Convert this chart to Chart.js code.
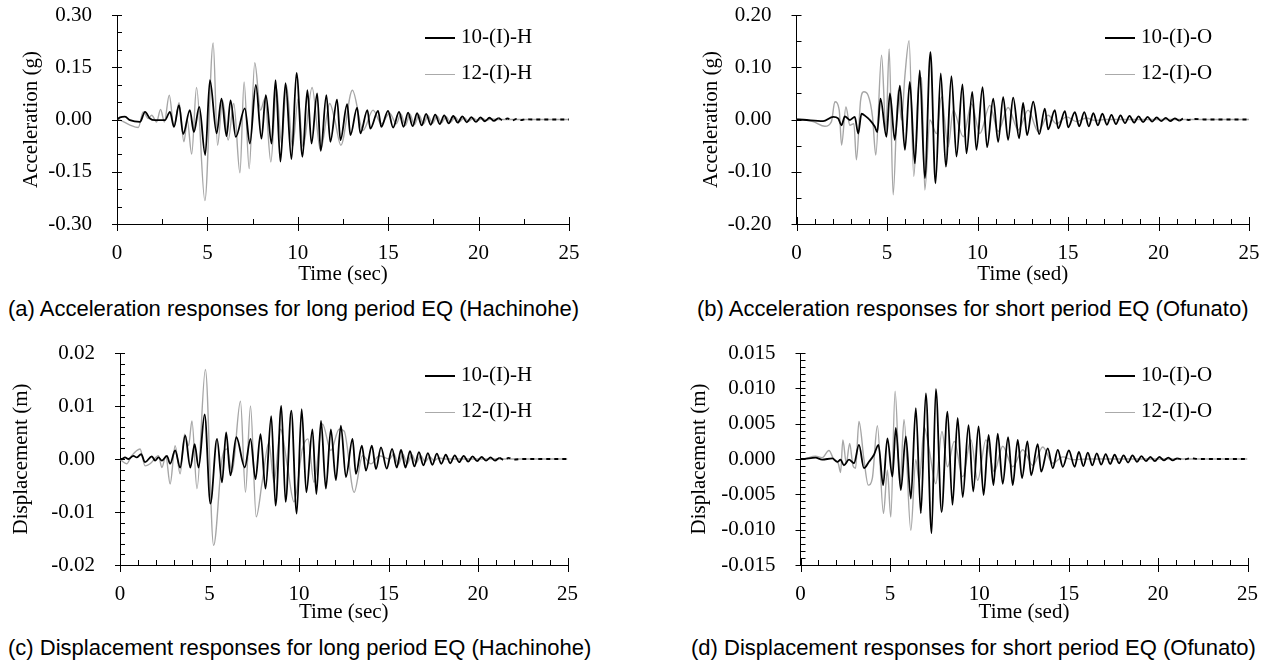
<!DOCTYPE html>
<html>
<head>
<meta charset="utf-8">
<script src="https://cdn.jsdelivr.net/npm/chart.js@4.4.1/dist/chart.umd.min.js"></script>
<style>
body { margin: 0; background: #fff; width: 1268px; height: 664px; position: relative; overflow: hidden; }
canvas { position: absolute; }
.cap { position: absolute; font-family: "Liberation Sans", Arial, sans-serif; font-size: 22px; line-height: 26px; white-space: nowrap; color: #000; }
.leg { position: absolute; font-family: "Liberation Serif", "Times New Roman", serif; font-size: 21px; line-height: 24px; white-space: nowrap; color: #000; }
.leg .ln { display: inline-block; width: 30px; height: 0; vertical-align: middle; margin-right: 6px; }
</style>
</head>
<body>
<canvas id="pa" width="620" height="292" style="left:0;top:0"></canvas>
<canvas id="pb" width="588" height="292" style="left:680px;top:0"></canvas>
<canvas id="pc" width="620" height="292" style="left:0;top:338px"></canvas>
<canvas id="pd" width="588" height="292" style="left:680px;top:338px"></canvas>

<div class="leg" style="left:425px;top:24px"><span class="ln" style="border-top:2px solid #000"></span>10-(I)-H</div>
<div class="leg" style="left:425px;top:60px"><span class="ln" style="border-top:1px solid #aaa"></span>12-(I)-H</div>
<div class="leg" style="left:1105px;top:24px"><span class="ln" style="border-top:2px solid #000"></span>10-(I)-O</div>
<div class="leg" style="left:1105px;top:60px"><span class="ln" style="border-top:1px solid #aaa"></span>12-(I)-O</div>
<div class="leg" style="left:425px;top:362px"><span class="ln" style="border-top:2px solid #000"></span>10-(I)-H</div>
<div class="leg" style="left:425px;top:398px"><span class="ln" style="border-top:1px solid #aaa"></span>12-(I)-H</div>
<div class="leg" style="left:1105px;top:362px"><span class="ln" style="border-top:2px solid #000"></span>10-(I)-O</div>
<div class="leg" style="left:1105px;top:398px"><span class="ln" style="border-top:1px solid #aaa"></span>12-(I)-O</div>

<div class="cap" style="left:8px;top:296px">(a) Acceleration responses for long period EQ (Hachinohe)</div>
<div class="cap" style="left:697px;top:296px">(b) Acceleration responses for short period EQ (Ofunato)</div>
<div class="cap" style="left:8px;top:635px">(c) Displacement responses for long period EQ (Hachinohe)</div>
<div class="cap" style="left:691px;top:635px">(d) Displacement responses for short period EQ (Ofunato)</div>

<script>
// tick labels
const timeTicks = [0, 5, 10, 15, 20, 25];
const accHTicks = [-0.30, -0.15, 0, 0.15, 0.30];
const accOTicks = [-0.20, -0.10, 0, 0.10, 0.20];
const dispHTicks = [-0.02, -0.01, 0, 0.01, 0.02];
const dispOTicks = [-0.015, -0.010, -0.005, 0, 0.005, 0.010, 0.015];

// (a) acceleration, Hachinohe  [time s, accel g]
const accH10 = [[0,0],[0.17,0.006],[0.44,0.008],[0.72,-0.002],[1.27,-0.007],[1.55,0.022],[1.82,0.003],[2.10,-0.002],[2.65,-0.002],[2.93,0.022],[3.15,-0.021],[3.43,0.041],[3.66,-0.042],[4.03,0.027],[4.25,-0.036],[4.55,0.036],[4.88,-0.102],[5.14,0.113],[5.51,-0.040],[5.78,0.060],[6.06,-0.048],[6.28,0.055],[6.57,-0.050],[7.07,0.032],[7.35,-0.069],[7.68,0.099],[7.99,-0.055],[8.23,0.070],[8.55,-0.069],[8.77,0.113],[9.04,-0.121],[9.32,0.104],[9.65,-0.114],[9.93,0.134],[10.26,-0.107],[10.53,0.084],[10.76,-0.069],[11.07,0.075],[11.27,-0.090],[11.58,0.070],[11.80,-0.064],[12.17,0.057],[12.36,-0.059],[12.73,0.044],[12.91,-0.045],[13.28,0.034],[13.46,-0.040],[13.85,0.027],[14.01,-0.026],[14.44,0.025],[14.62,-0.021],[14.99,0.025],[15.27,-0.023],[15.60,0.022],[15.85,-0.021],[16.1,0.020],[16.35,-0.019],[16.6,0.018],[16.85,-0.017],[17.1,0.016],[17.35,-0.015],[17.6,0.014],[17.85,-0.013],[18.1,0.012],[18.35,-0.011],[18.6,0.010],[18.85,-0.009],[19.1,0.009],[19.35,-0.008],[19.6,0.007],[19.85,-0.007],[20.1,0.006],[20.35,-0.005],[20.6,0.005],[20.85,-0.004],[21.1,0.004],[21.35,-0.003],[21.6,0.003],[21.85,-0.003],[22.1,0.002],[22.35,-0.002],[22.6,0.001],[23,0],[25,0]];
const accH12 = [[0,0],[0.17,-0.002],[0.72,-0.016],[1.18,-0.023],[1.45,0.022],[1.73,0.003],[1.92,0.012],[2.19,-0.007],[2.41,0.029],[2.62,-0.007],[2.89,0.070],[3.15,-0.021],[3.43,0.048],[3.70,-0.064],[3.89,-0.002],[4.13,-0.099],[4.40,0.092],[4.86,-0.233],[5.32,0.220],[5.56,-0.074],[5.84,0.055],[6.15,-0.059],[6.46,0.046],[6.80,-0.153],[7.03,0.108],[7.31,-0.141],[7.62,0.163],[7.94,0.027],[8.18,0.060],[8.51,-0.122],[8.82,0.089],[9.10,-0.069],[9.37,0.099],[9.71,-0.078],[10.02,0.060],[10.29,-0.078],[10.79,0.092],[11.25,-0.088],[11.77,0.046],[12.04,0.000],[12.38,-0.074],[13.02,0.084],[13.61,-0.031],[14.16,0.027],[14.62,-0.012],[15.08,0.018],[15.45,-0.012],[15.7,0.016],[15.95,-0.017],[16.2,0.015],[16.45,-0.015],[16.7,0.013],[16.95,-0.013],[17.2,0.011],[17.45,-0.011],[17.7,0.010],[17.95,-0.009],[18.2,0.008],[18.45,-0.008],[18.7,0.007],[18.95,-0.006],[19.2,0.005],[19.45,-0.005],[19.7,0.004],[19.95,-0.003],[20.2,0.003],[20.45,-0.002],[20.7,0.002],[21,0],[25,0]];

// (b) acceleration, Ofunato
const accO10 = [[0,0],[0.09,0],[1.47,-0.003],[2.03,0.005],[2.30,0.002],[2.49,-0.011],[2.67,0.006],[2.95,-0.001],[3.22,0.005],[3.41,-0.027],[3.59,0.011],[3.83,0.006],[4.05,-0.001],[4.33,-0.014],[4.46,-0.024],[4.64,0.040],[4.97,-0.033],[5.16,0.050],[5.43,-0.039],[5.71,0.065],[5.99,-0.058],[6.26,0.072],[6.54,-0.084],[6.81,0.094],[7.09,-0.112],[7.40,0.129],[7.68,-0.122],[7.97,0.088],[8.25,-0.090],[8.56,0.083],[8.84,-0.071],[9.17,0.067],[9.39,-0.065],[9.71,0.053],[9.94,-0.058],[10.28,0.062],[10.53,-0.053],[10.87,0.040],[11.14,-0.043],[11.42,0.043],[11.69,-0.039],[11.97,0.042],[12.30,-0.036],[12.52,0.032],[12.74,-0.030],[13.08,0.034],[13.41,-0.028],[13.72,0.021],[13.90,-0.019],[14.27,0.018],[14.46,-0.017],[14.83,0.016],[15.01,-0.015],[15.38,0.014],[15.62,-0.013],[15.9,0.014],[16.15,-0.013],[16.4,0.012],[16.65,-0.011],[16.9,0.011],[17.15,-0.010],[17.4,0.009],[17.65,-0.009],[17.9,0.008],[18.15,-0.007],[18.4,0.007],[18.65,-0.006],[18.9,0.006],[19.15,-0.005],[19.4,0.005],[19.65,-0.004],[19.9,0.004],[20.15,-0.003],[20.4,0.003],[20.65,-0.003],[20.9,0.002],[21.15,-0.002],[21.4,0.002],[21.65,-0.001],[22,0.001],[22.5,0],[25,0]];
const accO12 = [[0,0],[0.09,0],[0.92,-0.004],[1.57,-0.013],[1.93,-0.004],[2.12,0.034],[2.36,0.018],[2.49,-0.049],[2.73,0.024],[2.95,-0.011],[3.17,-0.008],[3.31,-0.077],[3.54,0.036],[3.72,0.053],[3.96,0.046],[4.20,0.005],[4.38,-0.068],[4.70,0.123],[4.94,-0.020],[5.12,0.135],[5.34,-0.144],[5.62,0.056],[5.80,-0.001],[5.99,0.084],[6.22,0.151],[6.48,-0.109],[6.72,0.053],[6.91,0.080],[7.09,-0.135],[7.37,-0.001],[7.73,-0.027],[8.01,0.043],[8.38,-0.052],[8.66,0.018],[9.21,-0.033],[9.67,0.030],[10.13,-0.027],[10.68,0.027],[11.14,-0.023],[11.69,0.023],[12.25,-0.020],[12.80,0.018],[13.35,-0.023],[13.90,0.008],[14.36,-0.008],[14.92,0.005],[15.47,-0.004],[16.0,0.003],[16.5,-0.002],[17,0],[25,0]];

// (c) displacement, Hachinohe  [time s, disp m]
const dispH10 = [[0,0],[0.09,0],[0.28,0.0003],[0.47,0],[0.75,0.0006],[0.93,0.0003],[1.18,0.0009],[1.40,-0.0006],[1.78,0.0005],[1.96,-0.0003],[2.15,0.0003],[2.34,-0.0003],[2.62,0.0006],[2.80,-0.0009],[3.08,0.0016],[3.36,-0.0016],[3.64,0.0044],[3.93,-0.0016],[4.17,0.0028],[4.39,-0.0016],[4.73,0.0084],[5.05,-0.0084],[5.42,0.0038],[5.70,-0.0044],[5.93,0.0050],[6.17,-0.0031],[6.50,0.0041],[6.97,-0.0016],[7.29,0.0038],[7.57,-0.0038],[7.85,0.0047],[8.13,-0.0056],[8.45,0.0081],[8.69,-0.0088],[9.01,0.0100],[9.25,-0.0081],[9.57,0.0091],[9.87,-0.0103],[10.15,0.0094],[10.41,-0.0063],[10.75,0.0056],[10.97,-0.0066],[11.23,0.0072],[11.50,-0.0056],[11.78,0.0056],[12.06,-0.0040],[12.34,0.0063],[12.62,-0.0034],[12.99,0.0038],[13.18,-0.0028],[13.51,0.0025],[13.74,-0.0022],[14.07,0.0025],[14.30,-0.0019],[14.58,0.0022],[14.90,-0.0018],[15.20,0.0019],[15.46,-0.0016],[15.7,0.0017],[15.95,-0.0016],[16.2,0.0015],[16.45,-0.0014],[16.7,0.0013],[16.95,-0.0012],[17.2,0.0011],[17.45,-0.0011],[17.7,0.0010],[17.95,-0.0009],[18.2,0.0008],[18.45,-0.0008],[18.7,0.0007],[18.95,-0.0006],[19.2,0.0006],[19.45,-0.0005],[19.7,0.0005],[19.95,-0.0004],[20.2,0.0004],[20.45,-0.0003],[20.7,0.0003],[20.95,-0.0003],[21.2,0.0002],[21.45,-0.0002],[21.7,0.0002],[22,-0.0001],[22.5,0],[25,0]];
const dispH12 = [[0,0],[0.09,-0.0003],[0.37,-0.0009],[0.65,0.0006],[1.12,0.0019],[1.40,-0.0013],[1.68,-0.0009],[2.15,0.0006],[2.34,-0.0016],[2.56,0.0006],[2.80,-0.0047],[3.08,0.0025],[3.36,-0.0028],[3.61,0.0047],[3.83,0.0025],[4.02,0.0072],[4.30,-0.0056],[4.77,0.0169],[5.23,-0.0163],[5.70,0.0],[5.98,0.0019],[6.26,-0.0025],[6.73,0.0109],[7.01,-0.0063],[7.29,0.0100],[7.61,-0.0109],[7.94,-0.0044],[8.32,0.0031],[8.60,-0.0044],[8.97,0.0056],[9.35,-0.0013],[9.72,-0.0081],[10.19,0.0019],[10.50,0.0038],[10.84,-0.0044],[11.31,0.0066],[11.78,0.0016],[12.24,0.0056],[12.52,0.0053],[13.08,-0.0063],[13.55,0.0006],[14.02,-0.0009],[14.49,0.0006],[15.05,0.0],[15.3,0.0010],[15.55,-0.0010],[15.8,0.0009],[16.05,-0.0009],[16.3,0.0008],[16.55,-0.0007],[16.8,0.0006],[17.05,-0.0005],[17.3,0.0004],[17.55,-0.0003],[17.8,0.0002],[18.2,0],[25,0]];

// (d) displacement, Ofunato
const dispO10 = [[0,0],[0.09,0],[0.84,0.0002],[1.21,-0.0001],[1.78,0.0001],[2.06,-0.0004],[2.24,-0.0001],[2.43,-0.0009],[2.71,-0.0001],[2.99,-0.0006],[3.27,0.0020],[3.55,-0.0013],[3.83,-0.0004],[4.11,0.0006],[4.36,0.0020],[4.62,-0.0037],[4.86,0.0029],[5.14,-0.0025],[5.33,0.0044],[5.61,-0.0044],[5.89,0.0032],[6.17,-0.0056],[6.45,0.0072],[6.73,-0.0077],[7.01,0.0093],[7.33,-0.0105],[7.57,0.0099],[7.89,-0.0075],[8.22,0.0067],[8.50,-0.0065],[8.79,0.0058],[9.07,-0.0054],[9.40,0.0048],[9.66,-0.0046],[9.96,0.0046],[10.24,-0.0051],[10.52,0.0034],[10.79,-0.0037],[11.03,0.0036],[11.31,-0.0035],[11.61,0.0031],[11.87,-0.0037],[12.15,0.0027],[12.39,-0.0027],[12.69,0.0025],[12.90,-0.0023],[13.27,0.0021],[13.46,-0.0018],[13.83,0.0015],[14.11,-0.0013],[14.39,0.0013],[14.67,-0.0011],[15.01,0.0012],[15.33,-0.0011],[15.57,0.0010],[15.82,-0.0010],[16.07,0.0009],[16.32,-0.0009],[16.57,0.0008],[16.82,-0.0008],[17.07,0.0007],[17.32,-0.0007],[17.57,0.0006],[17.82,-0.0006],[18.07,0.0005],[18.32,-0.0005],[18.57,0.0005],[18.82,-0.0004],[19.07,0.0004],[19.32,-0.0003],[19.57,0.0003],[19.82,-0.0003],[20.07,0.0003],[20.32,-0.0002],[20.57,0.0002],[20.82,-0.0002],[21.07,0.0001],[21.4,-0.0001],[21.8,0.0001],[22.3,0],[25,0]];
const dispO12 = [[0,0],[0.09,0],[0.84,0.0004],[1.21,0.0002],[1.59,0.0012],[1.87,-0.0001],[2.11,-0.0006],[2.24,-0.0019],[2.37,0.0027],[2.56,-0.0006],[2.75,0.0022],[2.93,-0.0009],[3.08,-0.0013],[3.27,0.0053],[3.55,-0.0001],[3.79,-0.0037],[4.02,-0.0027],[4.30,0.0047],[4.64,-0.0077],[4.86,-0.0016],[5.05,-0.0082],[5.29,0.0096],[5.57,-0.0035],[5.79,0.0056],[6.17,-0.0101],[6.45,-0.0001],[6.64,-0.0032],[6.92,0.0045],[7.20,0.0013],[7.57,-0.0035],[7.91,0.0039],[8.22,-0.0011],[8.60,0.0025],[9.07,-0.0025],[9.53,0.0027],[9.91,-0.0030],[10.37,0.0027],[10.84,-0.0018],[11.31,0.0018],[11.87,-0.0011],[12.43,0.0013],[12.99,-0.0009],[13.55,0.0017],[14.11,-0.0006],[14.67,0.0003],[15.23,-0.0001],[16,0],[25,0]];

const serif = { family: "'Liberation Serif', 'Times New Roman', serif", size: 21 };

function toXY(arr) {
    return arr.map(([x, y]) => ({ x, y }));
}

function isMajor(v, list) {
    return list.some((m) => Math.abs(m - v) < 1e-9);
}

// small inner ticks, major ticks cross the axis
const tickMarks = {
    id: "tickMarks",
    afterDraw(chart) {
        const { ctx, chartArea: area } = chart;
        const xs = chart.scales.x;
        const ys = chart.scales.y;
        ctx.save();
        ctx.strokeStyle = "#000";
        ctx.lineWidth = 1;
        ctx.beginPath();
        xs.ticks.forEach((t) => {
            const px = Math.round(xs.getPixelForValue(t.value)) + 0.5;
            const major = t.label !== "";
            ctx.moveTo(px, area.bottom - (major ? 7 : 5));
            ctx.lineTo(px, area.bottom + (major ? 7 : 0));
        });
        ys.ticks.forEach((t) => {
            const py = Math.round(ys.getPixelForValue(t.value)) + 0.5;
            const major = t.label !== "";
            ctx.moveTo(area.left - (major ? 5 : 0), py);
            ctx.lineTo(area.left + 5, py);
        });
        ctx.stroke();
        ctx.restore();
    },
};

function makeChart(id, s) {
    new Chart(document.getElementById(id), {
        type: "line",
        data: {
            datasets: [
                {
                    label: s.names[0],
                    data: toXY(s.black),
                    borderColor: "#000",
                    borderWidth: 1.8,
                    pointRadius: 0,
                    cubicInterpolationMode: "monotone",
                    segment: {
                        borderDash: (c) => (c.p0.parsed.x >= 21 ? [4, 4] : undefined),
                    },
                },
                {
                    label: s.names[1],
                    data: toXY(s.gray),
                    borderColor: "#a6a6a6",
                    borderWidth: 1.4,
                    pointRadius: 0,
                    cubicInterpolationMode: "monotone",
                },
            ],
        },
        options: {
            responsive: false,
            animation: false,
            events: [],
            layout: { padding: { left: 0, top: s.padTop, right: s.padRight, bottom: 0 } },
            plugins: { legend: { display: false }, tooltip: { enabled: false } },
            scales: {
                x: {
                    type: "linear",
                    min: 0,
                    max: 25,
                    afterFit: (sc) => {
                        sc.height = s.xH;
                        sc.paddingLeft = 0;
                        sc.paddingRight = 0;
                    },
                    grid: { drawOnChartArea: false, drawTicks: false },
                    border: { color: "#000", width: 1 },
                    ticks: {
                        stepSize: s.xStep,
                        autoSkip: false,
                        maxRotation: 0,
                        maxTicksLimit: 100,
                        padding: 17,
                        color: "#000",
                        font: serif,
                        callback: (v) => (isMajor(v, timeTicks) ? String(Math.round(v)) : ""),
                    },
                    title: { display: true, text: s.xTitle, color: "#000", font: serif, padding: { top: 0, bottom: 5 } },
                },
                y: {
                    min: s.yTicks[0],
                    max: s.yTicks[s.yTicks.length - 1],
                    afterFit: (sc) => {
                        sc.width = s.yW;
                        sc.paddingTop = 0;
                        sc.paddingBottom = 0;
                    },
                    grid: { drawOnChartArea: false, drawTicks: false },
                    border: { color: "#000", width: 1 },
                    ticks: {
                        stepSize: s.yStep,
                        autoSkip: false,
                        maxTicksLimit: 100,
                        padding: 25,
                        color: "#000",
                        font: serif,
                        callback: (v) => {
                            if (!isMajor(v, s.yTicks)) return "";
                            const val = Math.abs(v) < 1e-12 ? 0 : v;
                            return val.toFixed(s.digits);
                        },
                    },
                    title: { display: true, text: s.yTitle, color: "#000", font: serif, padding: { top: s.yTitlePad, bottom: 0 } },
                },
            },
        },
        plugins: [tickMarks],
    });
}

makeChart("pa", {
    names: ["10-(I)-H", "12-(I)-H"], black: accH10, gray: accH12,
    yTicks: accHTicks, yStep: 0.05, digits: 2, xStep: 2.5,
    xTitle: "Time (sec)", yTitle: "Acceleration (g)",
    padTop: 15, padRight: 51, xH: 68, yW: 117, yTitlePad: 19,
});
makeChart("pb", {
    names: ["10-(I)-O", "12-(I)-O"], black: accO10, gray: accO12,
    yTicks: accOTicks, yStep: 0.05, digits: 2, xStep: 1,
    xTitle: "Time (sed)", yTitle: "Acceleration (g)",
    padTop: 15, padRight: 19, xH: 68, yW: 116.5, yTitlePad: 19,
});
makeChart("pc", {
    names: ["10-(I)-H", "12-(I)-H"], black: dispH10, gray: dispH12,
    yTicks: dispHTicks, yStep: 0.002, digits: 2, xStep: 1,
    xTitle: "Time (sec)", yTitle: "Displacement (m)",
    padTop: 15, padRight: 52.5, xH: 65, yW: 120, yTitlePad: 9,
});
makeChart("pd", {
    names: ["10-(I)-O", "12-(I)-O"], black: dispO10, gray: dispO12,
    yTicks: dispOTicks, yStep: 0.001, digits: 3, xStep: 1,
    xTitle: "Time (sed)", yTitle: "Displacement (m)",
    padTop: 15, padRight: 20.5, xH: 65, yW: 120.5, yTitlePad: 7,
});
</script>
</body>
</html>
